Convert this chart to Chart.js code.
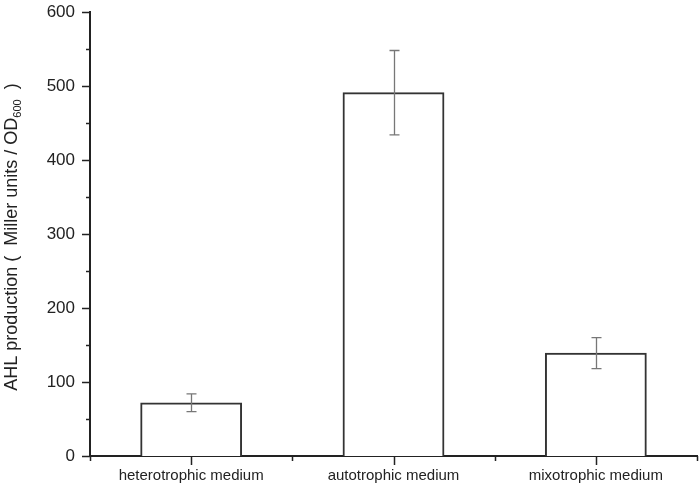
<!DOCTYPE html>
<html>
<head>
<meta charset="utf-8">
<script src="https://cdn.jsdelivr.net/npm/chart.js@4/dist/chart.umd.min.js"></script>
<style>
  html, body { margin: 0; padding: 0; background: #fff; }
  #wrap { width: 700px; height: 490px; }
</style>
</head>
<body>
<div id="wrap"><canvas id="chart" width="700" height="490"></canvas></div>
<script>
// Données
const categories = ['heterotrophic medium', 'autotrophic medium', 'mixotrophic medium'];
const means = [72, 491, 139];
const errors = [12, 57, 21];
const yMin = 0;
const yMax = 600;
const yStep = 100;

const FONT = "'Liberation Sans', Arial, sans-serif";

// Barres d'erreur (gris, avec petits chapeaux)
const errorBarsPlugin = {
    id: 'errorBars',
    afterDatasetsDraw(chart) {
        const ctx = chart.ctx;
        const yScale = chart.scales.y;
        const meta = chart.getDatasetMeta(0);
        ctx.save();
        ctx.strokeStyle = '#777';
        ctx.lineWidth = 1.3;
        meta.data.forEach((bar, i) => {
            const x = Math.round(bar.x) + 0.5;
            const top = yScale.getPixelForValue(means[i] + errors[i]);
            const bottom = yScale.getPixelForValue(means[i] - errors[i]);
            ctx.beginPath();
            ctx.moveTo(x, top);
            ctx.lineTo(x, bottom);
            ctx.moveTo(x - 5, top);
            ctx.lineTo(x + 5, top);
            ctx.moveTo(x - 5, bottom);
            ctx.lineTo(x + 5, bottom);
            ctx.stroke();
        });
        ctx.restore();
    }
};

// Graduations majeures / mineures tournées vers l'extérieur
const tickMarksPlugin = {
    id: 'tickMarks',
    afterDraw(chart) {
        const ctx = chart.ctx;
        const area = chart.chartArea;
        const xScale = chart.scales.x;
        const yScale = chart.scales.y;
        ctx.save();
        ctx.strokeStyle = '#222';
        ctx.lineWidth = 1.5;
        ctx.beginPath();
        for (let v = yMin; v <= yMax; v += yStep / 2) {
            const py = Math.round(yScale.getPixelForValue(v)) + 0.5;
            const len = (v % yStep === 0) ? 8 : 4;
            ctx.moveTo(area.left, py);
            ctx.lineTo(area.left - len, py);
        }
        for (let v = 0.5; v <= categories.length + 0.5; v += 0.5) {
            const px = Math.round(xScale.getPixelForValue(v)) + 0.5;
            const len = Number.isInteger(v) ? 9 : 5;
            ctx.moveTo(px, area.bottom);
            ctx.lineTo(px, area.bottom + len);
        }
        ctx.stroke();
        ctx.restore();
    }
};

// Titre de l'axe Y avec indice (OD600)
const yTitlePlugin = {
    id: 'yTitle',
    afterDraw(chart) {
        const ctx = chart.ctx;
        const area = chart.chartArea;
        const mainFont = '18px ' + FONT;
        const subFont = '11px ' + FONT;
        const partA = 'AHL production (  Miller units / OD';
        const partSub = '600';
        const partB = '  )';
        ctx.save();
        ctx.fillStyle = '#222';
        ctx.textBaseline = 'alphabetic';
        ctx.font = mainFont;
        const wA = ctx.measureText(partA).width;
        const wB = ctx.measureText(partB).width;
        ctx.font = subFont;
        const wSub = ctx.measureText(partSub).width;
        const total = wA + wSub + wB;
        ctx.translate(17, (area.top + area.bottom) / 2 + 3);
        ctx.rotate(-Math.PI / 2);
        let x = -total / 2;
        ctx.font = mainFont;
        ctx.fillText(partA, x, 0);
        x += wA;
        ctx.font = subFont;
        ctx.fillText(partSub, x, 4);
        x += wSub;
        ctx.font = mainFont;
        ctx.fillText(partB, x, 0);
        ctx.restore();
    }
};

const ctx = document.getElementById('chart').getContext('2d');
new Chart(ctx, {
    type: 'bar',
    data: {
        datasets: [{
            data: means.map((m, i) => ({ x: i + 1, y: m })),
            backgroundColor: '#ffffff',
            borderColor: '#333333',
            borderWidth: 2,
            barPercentage: 1,
            categoryPercentage: 1
        }]
    },
    options: {
        responsive: false,
        animation: false,
        layout: { padding: { top: 12, right: 3, left: 0, bottom: 0 } },
        plugins: {
            legend: { display: false },
            tooltip: { enabled: false }
        },
        scales: {
            x: {
                type: 'linear',
                offset: false,
                min: 0.5,
                max: categories.length + 0.5,
                afterFit: (scale) => {
                    scale.height = 34;
                    scale.paddingLeft = 0;
                    scale.paddingRight = 0;
                },
                grid: { display: false, drawTicks: false, offset: false },
                border: { display: true, color: '#222', width: 2 },
                ticks: {
                    stepSize: 0.5,
                    autoSkip: false,
                    maxRotation: 0,
                    padding: 11,
                    color: '#222',
                    font: { family: FONT, size: 15 },
                    callback: (v) => Number.isInteger(v) ? categories[v - 1] : ''
                }
            },
            y: {
                min: yMin,
                max: yMax,
                afterFit: (scale) => {
                    scale.width = 90;
                    scale.paddingTop = 0;
                    scale.paddingBottom = 0;
                },
                grid: { display: false, drawTicks: false },
                border: { display: true, color: '#222', width: 2 },
                ticks: {
                    stepSize: yStep,
                    padding: 15,
                    color: '#222',
                    font: { family: FONT, size: 17 }
                }
            }
        }
    },
    plugins: [errorBarsPlugin, tickMarksPlugin, yTitlePlugin]
});
</script>
</body>
</html>
